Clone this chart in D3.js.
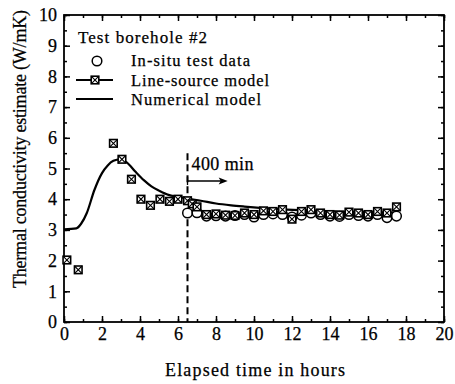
<!DOCTYPE html>
<html>
<head>
<meta charset="utf-8">
<script src="https://cdn.jsdelivr.net/npm/d3@7"></script>
<style>
  body { margin: 0; background: #fff; }
  svg text { font-family: "Liberation Serif", "DejaVu Serif", serif; fill: #000; stroke: #000; stroke-width: 0.25px; }
</style>
</head>
<body>
<svg width="455" height="384"></svg>
<script>
// Line-source model estimates (hours, W/mK)
const lineTime = [0.15, 0.75, 2.6, 3.05, 3.55, 4.05, 4.55, 5.05, 5.55, 6.0, 6.5, 6.75, 7.0, 7.5, 8.0, 8.5, 9.0, 9.5, 10.0, 10.5, 11.0, 11.5, 12.0, 12.5, 13.0, 13.5, 14.0, 14.5, 15.0, 15.5, 16.0, 16.5, 17.0, 17.5];
const lineK = [2.02, 1.7, 5.82, 5.3, 4.65, 4.0, 3.8, 4.0, 3.93, 4.0, 3.95, 3.85, 3.75, 3.5, 3.52, 3.48, 3.47, 3.55, 3.5, 3.62, 3.6, 3.66, 3.35, 3.6, 3.66, 3.55, 3.5, 3.48, 3.58, 3.55, 3.5, 3.6, 3.55, 3.75];

// In-situ test data
const testTime = [6.5, 7.0, 7.5, 8.0, 8.5, 9.0, 9.5, 10.0, 10.5, 11.0, 11.5, 12.0, 12.5, 13.0, 13.5, 14.0, 14.5, 15.0, 15.5, 16.0, 16.5, 17.0, 17.5];
const testK = [3.55, 3.56, 3.45, 3.46, 3.45, 3.47, 3.5, 3.42, 3.5, 3.52, 3.5, 3.42, 3.48, 3.55, 3.5, 3.45, 3.44, 3.5, 3.47, 3.45, 3.5, 3.4, 3.45];

// Numerical model curve
const numTime = [0, 0.65, 0.9, 1.2, 1.6, 2.0, 2.3, 2.6, 2.95, 3.3, 3.75, 4.2, 4.6, 5.0, 5.5, 6.0, 6.5, 7.2, 8.0, 8.8, 9.5, 10.3, 11.5, 13.0, 14.5, 16.0, 17.5];
const numK = [3.02, 3.05, 3.2, 3.55, 4.3, 4.85, 5.1, 5.25, 5.3, 5.2, 4.9, 4.62, 4.42, 4.28, 4.14, 4.08, 4.02, 3.95, 3.86, 3.8, 3.76, 3.72, 3.67, 3.63, 3.6, 3.58, 3.56];

const xTicks = [0, 2, 4, 6, 8, 10, 12, 14, 16, 18, 20];
const yTicks = [0, 1, 2, 3, 4, 5, 6, 7, 8, 9, 10];
const cutoff = 6.5; // 400 min

let svg = d3.select('svg');
let m = {left: 64, right: 444, top: 15, bottom: 322};

let x = d3.scaleLinear().domain([0, 20]).range([m.left, m.right]);
let y = d3.scaleLinear().domain([0, 10]).range([m.bottom, m.top]);

// frame
svg.append('rect')
    .attr('x', m.left).attr('y', m.top)
    .attr('width', m.right - m.left).attr('height', m.bottom - m.top)
    .attr('fill', 'none').attr('stroke', '#000').attr('stroke-width', 1.8);

// axes with inward ticks
let xMinor = d3.range(0, 21, 1);
let yMinor = d3.range(0, 10.01, 0.5);

svg.append('g').attr('transform', `translate(0,${m.bottom})`)
    .call(d3.axisBottom(x).tickValues(xMinor).tickSize(-3).tickFormat(''))
    .call(g => g.select('.domain').remove());
svg.append('g').attr('transform', `translate(0,${m.bottom})`)
    .call(d3.axisBottom(x).tickValues(xTicks).tickSizeInner(-6).tickSizeOuter(0).tickPadding(5).tickFormat(d3.format('d')))
    .call(g => g.select('.domain').remove())
    .call(g => g.selectAll('text').attr('font-size', 18));
svg.append('g').attr('transform', `translate(0,${m.top})`)
    .call(d3.axisTop(x).tickValues(xMinor).tickSize(-3).tickFormat(''))
    .call(g => g.select('.domain').remove());
svg.append('g').attr('transform', `translate(0,${m.top})`)
    .call(d3.axisTop(x).tickValues(xTicks).tickSize(-6).tickFormat(''))
    .call(g => g.select('.domain').remove());

svg.append('g').attr('transform', `translate(${m.left},0)`)
    .call(d3.axisLeft(y).tickValues(yMinor).tickSize(-3).tickFormat(''))
    .call(g => g.select('.domain').remove());
svg.append('g').attr('transform', `translate(${m.left},0)`)
    .call(d3.axisLeft(y).tickValues(yTicks).tickSizeInner(-6).tickSizeOuter(0).tickPadding(7).tickFormat(d3.format('d')))
    .call(g => g.select('.domain').remove())
    .call(g => g.selectAll('text').attr('font-size', 18));
svg.append('g').attr('transform', `translate(${m.right},0)`)
    .call(d3.axisRight(y).tickValues(yMinor).tickSize(-3).tickFormat(''))
    .call(g => g.select('.domain').remove());
svg.append('g').attr('transform', `translate(${m.right},0)`)
    .call(d3.axisRight(y).tickValues(yTicks).tickSize(-6).tickFormat(''))
    .call(g => g.select('.domain').remove());

svg.selectAll('.tick line').attr('stroke', '#000').attr('stroke-width', 1.5);

// axis titles
svg.append('text')
    .attr('x', 255).attr('y', 376)
    .attr('text-anchor', 'middle').attr('font-size', 18)
    .attr('textLength', 180).attr('lengthAdjust', 'spacing')
    .text('Elapsed time in hours');
svg.append('text')
    .attr('transform', `translate(26,149) rotate(-90)`)
    .attr('text-anchor', 'middle').attr('font-size', 18)
    .attr('textLength', 278).attr('lengthAdjust', 'spacing')
    .text('Thermal conductivity estimate (W/mK)');

// numerical model line
let numData = numTime.map((t, i) => [t, numK[i]]);
svg.append('path')
    .datum(numData)
    .attr('d', d3.line().x(d => x(d[0])).y(d => y(d[1])).curve(d3.curveMonotoneX))
    .attr('fill', 'none').attr('stroke', '#000').attr('stroke-width', 2.2);

// 400 min marker
svg.append('line')
    .attr('x1', x(cutoff)).attr('x2', x(cutoff))
    .attr('y1', y(5.5)).attr('y2', m.bottom)
    .attr('stroke', '#000').attr('stroke-width', 2).attr('stroke-dasharray', '7,4');
svg.append('text')
    .attr('x', x(cutoff) + 4).attr('y', 170)
    .attr('font-size', 18).attr('textLength', 62).attr('lengthAdjust', 'spacing')
    .text('400 min');
svg.append('line')
    .attr('x1', x(cutoff)).attr('x2', x(8.3))
    .attr('y1', 181).attr('y2', 181)
    .attr('stroke', '#000').attr('stroke-width', 1.3);
svg.append('line')
    .attr('x1', x(cutoff)).attr('x2', x(cutoff))
    .attr('y1', 177).attr('y2', 185)
    .attr('stroke', '#000').attr('stroke-width', 1.3);
svg.append('path')
    .attr('d', `M${x(8.3) + 6},181 L${x(8.3) - 3},177.5 L${x(8.3) - 1},181 L${x(8.3) - 3},184.5 Z`)
    .attr('fill', '#000');

// marker helpers
function squareX(g, cx, cy) {
    let s = 3.8;
    g.append('rect').attr('x', cx - s).attr('y', cy - s).attr('width', 2 * s).attr('height', 2 * s)
        .attr('fill', '#fff').attr('stroke', '#000').attr('stroke-width', 1.6);
    g.append('path')
        .attr('d', `M${cx - s},${cy - s}L${cx + s},${cy + s}M${cx + s},${cy - s}L${cx - s},${cy + s}`)
        .attr('stroke', '#000').attr('stroke-width', 1.1);
}
function circle(g, cx, cy) {
    g.append('circle').attr('cx', cx).attr('cy', cy).attr('r', 4.8)
        .attr('fill', '#fff').attr('stroke', '#000').attr('stroke-width', 1.5);
}

// in-situ data circles
let gTest = svg.append('g');
testTime.forEach((t, i) => circle(gTest, x(t), y(testK[i])));

// line-source squares
let gLine = svg.append('g');
lineTime.forEach((t, i) => squareX(gLine, x(t), y(lineK[i])));

// legend
let lg = svg.append('g');
lg.append('text').attr('x', 78).attr('y', 43).attr('font-size', 17)
    .attr('textLength', 129).attr('lengthAdjust', 'spacing').text('Test borehole #2');
circle(lg, 97, 61);
lg.append('text').attr('x', 131).attr('y', 66).attr('font-size', 16.5)
    .attr('textLength', 119).attr('lengthAdjust', 'spacing').text('In-situ test data');
lg.append('line').attr('x1', 76).attr('x2', 113).attr('y1', 80).attr('y2', 80)
    .attr('stroke', '#000').attr('stroke-width', 2);
squareX(lg, 95, 80);
lg.append('text').attr('x', 131).attr('y', 85.5).attr('font-size', 16.5)
    .attr('textLength', 138).attr('lengthAdjust', 'spacing').text('Line-source model');
lg.append('line').attr('x1', 76).attr('x2', 113).attr('y1', 99).attr('y2', 99)
    .attr('stroke', '#000').attr('stroke-width', 2);
lg.append('text').attr('x', 131).attr('y', 105).attr('font-size', 16.5)
    .attr('textLength', 130).attr('lengthAdjust', 'spacing').text('Numerical model');
</script>
</body>
</html>
